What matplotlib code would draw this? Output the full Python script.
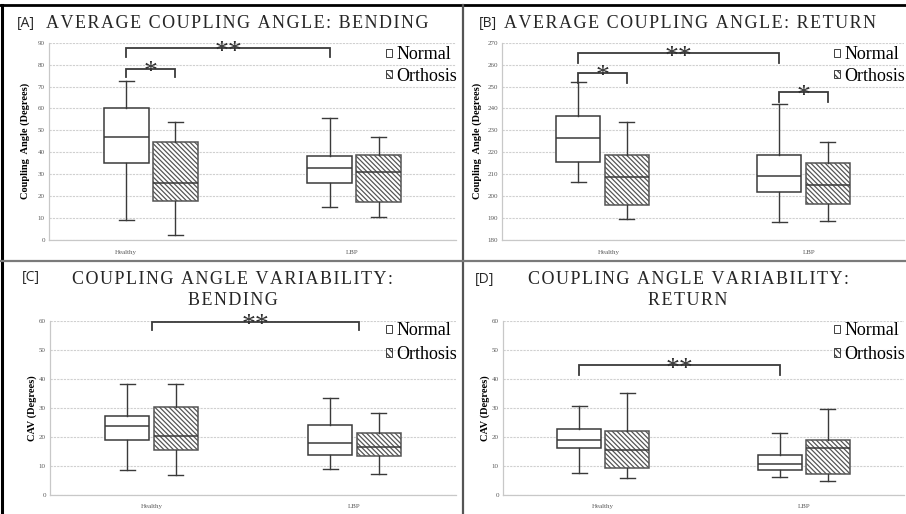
import numpy as np
import matplotlib
matplotlib.use("Agg")
import matplotlib.pyplot as plt
from matplotlib.patches import Patch
from matplotlib.lines import Line2D

plt.rcParams['font.family'] = ['Liberation Serif', 'DejaVu Serif']
plt.rcParams['hatch.linewidth'] = 0.9

W, H = 906, 514

# box statistics: whisker low, Q1, median, Q3, whisker high
# order: Healthy-Normal, Healthy-Orthosis, LBP-Normal, LBP-Orthosis
bend_avg = [[9.1, 35.0, 46.8, 60.0, 72.7],
            [2.3, 18.0, 26.2, 44.6, 53.6],
            [14.9, 26.2, 32.9, 38.1, 55.6],
            [10.6, 17.5, 31.2, 38.8, 47.2]]
ret_avg = [[206.6, 215.4, 226.4, 236.6, 252.1],
           [189.6, 196.0, 208.9, 218.9, 234.0],
           [188.1, 202.0, 209.2, 218.9, 242.0],
           [188.5, 196.4, 205.1, 215.0, 224.5]]
bend_cav = [[8.4, 18.9, 23.6, 27.1, 38.1],
            [6.8, 15.5, 20.4, 30.2, 38.1],
            [8.8, 13.8, 17.7, 24.0, 33.4],
            [7.3, 13.2, 16.6, 21.3, 28.3]]
ret_cav = [[7.6, 16.2, 19.0, 22.8, 30.7],
           [5.8, 9.1, 15.5, 22.1, 35.0],
           [6.1, 8.6, 10.5, 13.8, 21.3],
           [4.8, 7.3, 16.0, 18.9, 29.5]]

groups = ['Healthy', 'LBP']
conditions = ['Normal', 'Orthosis']

# significance brackets: (x left, x right, bar y, end y, stars)
sig_a = [(0.38, 1.38, 87.4, 83.6, '**'), (0.38, 0.62, 78.0, 74.2, '*')]
sig_b = [(0.38, 1.38, 265.1, 260.9, '**'), (0.38, 0.62, 256.3, 251.8, '*'),
         (1.38, 1.62, 247.3, 243.1, '*')]
sig_c = [(0.5, 1.52, 59.7, 56.8, '**')]
sig_d = [(0.38, 1.38, 44.7, 41.5, '**')]

panels = [
    dict(tag='[A]', title='AVERAGE COUPLING ANGLE: BENDING', data=bend_avg, sig=sig_a,
         ylab='Coupling  Angle (Degrees)', ylim=(0, 90), ticks=np.arange(0, 91, 10),
         box=(49, 42.7, 456, 240), xlabs=[0.38, 1.49], labx=-0.047),
    dict(tag='[B]', title='AVERAGE COUPLING ANGLE: RETURN', data=ret_avg, sig=sig_b,
         ylab='Coupling  Angle (Degrees)', ylim=(180, 270), ticks=np.arange(180, 271, 10),
         box=(502, 42.7, 904, 240), xlabs=[0.53, 1.53], labx=-0.050),
    dict(tag='[C]', title='COUPLING ANGLE VARIABILITY:\nBENDING', data=bend_cav, sig=sig_c,
         ylab='CAV (Degrees)', ylim=(0, 60), ticks=np.arange(0, 61, 10),
         box=(50, 321, 456, 494.7), xlabs=[0.5, 1.5], labx=-0.032),
    dict(tag='[D]', title='COUPLING ANGLE VARIABILITY:\nRETURN', data=ret_cav, sig=sig_d,
         ylab='CAV (Degrees)', ylim=(0, 60), ticks=np.arange(0, 61, 10),
         box=(503, 321, 904, 494.7), xlabs=[0.5, 1.5], labx=-0.032),
]


def spaced(s, n=1):
    # widen letter spacing with hair spaces
    gap = '\u200a' * n
    return '\n'.join(gap.join(line) for line in s.split('\n'))


fig = plt.figure(figsize=(W / 100, H / 100), dpi=100)
fig.patch.set_facecolor('white')

edge = '#3a3a3a'
hatch = '\\' * 7
offs = [-0.12, 0.12]
positions = [0.5 + offs[0], 0.5 + offs[1], 1.5 + offs[0], 1.5 + offs[1]]

for p in panels:
    x0, y0, x1, y1 = p['box']
    ax = fig.add_axes([x0 / W, 1 - y1 / H, (x1 - x0) / W, (y1 - y0) / H])
    stats = []
    for i, (lo, q1, med, q3, hi) in enumerate(p['data']):
        stats.append(dict(whislo=lo, q1=q1, med=med, q3=q3, whishi=hi, fliers=[],
                          label=groups[i // 2] + ' ' + conditions[i % 2]))
    bp = ax.bxp(stats, positions=positions, widths=0.22, patch_artist=True,
                showfliers=False, capwidths=0.075,
                boxprops=dict(edgecolor=edge, linewidth=1.1),
                medianprops=dict(color=edge, linewidth=1.1),
                whiskerprops=dict(color=edge, linewidth=1.0),
                capprops=dict(color=edge, linewidth=1.0))
    for i, b in enumerate(bp['boxes']):
        b.set_facecolor('white')
        if i % 2 == 1:
            b.set_hatch(hatch)
            b.set_edgecolor('#555555')

    ax.set_xlim(0, 2)
    ax.set_ylim(*p['ylim'])
    ax.set_yticks(p['ticks'])
    ax.set_xticks(p['xlabs'])
    ax.set_xticklabels(groups)
    ax.tick_params(axis='both', length=0, labelsize=5, labelcolor='#595959')
    ax.tick_params(axis='x', pad=7)
    ax.tick_params(axis='y', pad=3)
    ax.yaxis.grid(True, color='#d0d0d0', linewidth=0.8, linestyle=(0, (2, 1)))
    ax.set_axisbelow(True)
    for s in ['top', 'right']:
        ax.spines[s].set_visible(False)
    for s in ['left', 'bottom']:
        ax.spines[s].set_color('#c8c8c8')
        ax.spines[s].set_linewidth(0.9)
    ax.set_ylabel(p['ylab'], fontsize=7.5, fontweight='bold')
    ax.yaxis.set_label_coords(p['labx'], 0.5)

    # significance brackets
    for xl, xr, yb, ye, stars in p['sig']:
        ax.plot([xl, xl, xr, xr], [ye, yb, yb, ye], color=edge, linewidth=1.3,
                solid_joinstyle='miter')
        ax.annotate(stars, xy=((xl + xr) / 2, yb), xytext=(0, -7.5),
                    textcoords='offset points', ha='center', va='baseline',
                    fontsize=20, color='#303030')

    handles = [Patch(facecolor='white', edgecolor='#404040', linewidth=0.7, label='Normal'),
               Patch(facecolor='white', edgecolor='#404040', linewidth=0.7,
                     hatch='\\' * 5, label='Orthosis')]
    top_row = p['tag'] in ('[A]', '[B]')
    ax.legend(handles=handles, loc='upper right',
              bbox_to_anchor=(1.02, 1.018 if top_row else 1.035),
              frameon=False, fontsize=13, handlelength=0.32, handleheight=0.32,
              handletextpad=0.25, labelspacing=0.25 if top_row else 0.38,
              borderaxespad=0.0)

# panel titles
title_pos = [(237, 23, 13), (690, 23, 13), (233, 290, 13), (688, 290, 13)]
tag_pos = [(26, 23), (488, 23), (31, 277), (485, 279)]
for p, (tx, ty, fs), (gx, gy) in zip(panels, title_pos, tag_pos):
    fig.text(tx / W, 1 - ty / H, spaced(p['title']), ha='center', va='center',
             fontsize=fs, color='#262626', linespacing=1.25)
    fig.text(gx / W, 1 - gy / H, p['tag'], ha='center', va='center', fontsize=10,
             family=['Open Sans', 'DejaVu Sans'], color='#262626')


# frame lines between panels
def frame_line(xa, ya, xb, yb, color, lw):
    fig.add_artist(Line2D([xa / W, xb / W], [1 - ya / H, 1 - yb / H],
                          transform=fig.transFigure, color=color, linewidth=lw))


frame_line(0, 5, W, 5, 'black', 2.0)
frame_line(1.5, 5, 1.5, H, 'black', 2.2)
frame_line(463, 5, 463, H, '#555555', 1.6)
frame_line(0, 261, W, 261, '#7a7a7a', 1.6)

fig.savefig('out.png', dpi=100, facecolor='white')
